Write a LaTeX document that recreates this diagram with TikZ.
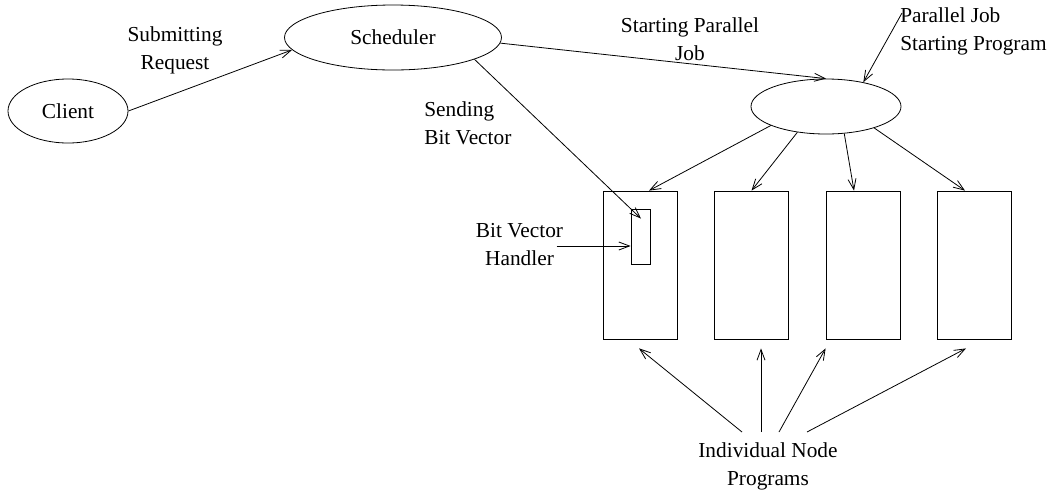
\documentclass[tikz,border=0pt]{standalone}
\usepackage{fontspec}
\setmainfont{Liberation Serif}
\usetikzlibrary{arrows.meta,shapes.geometric,calc}
\begin{document}
\begin{tikzpicture}[x=0.75pt,y=-0.75pt,
  every node/.style={font=\fontsize{16pt}{21pt}\selectfont},
  ell/.style={draw,ellipse,inner sep=0pt,line width=0.6pt},
  boxn/.style={draw,rectangle,inner sep=0pt,line width=0.6pt,minimum width=55.5pt,minimum height=111pt},
  lbl/.style={inner sep=0pt},
  arr/.style={line width=0.6pt,-{Straight Barb[length=8pt,width=6pt,line width=0.6pt]}}]
\path[use as bounding box,fill=white] (0,0) rectangle (1057,497);
% nodes
\node[ell,minimum width=90pt,minimum height=48pt] (client) at (68,111) {Client};
\node[ell,minimum width=162.75pt,minimum height=48.75pt] (sched) at (393,37.5) {Scheduler};
\node[ell,minimum width=112.5pt,minimum height=41.25pt] (pj) at (826,106.5) {};
\node[boxn] (box1) at (640,265) {};
\node[boxn] (box2) at (751.5,265) {};
\node[boxn] (box3) at (863,265) {};
\node[boxn] (box4) at (974.5,265) {};
\node[draw,rectangle,inner sep=0pt,line width=0.6pt,minimum width=14.25pt,minimum height=41.25pt] (bv) at (640.5,236.5) {};
% labels
\node[lbl,align=center] (sub) at (175,50) {Submitting\\Request};
\node[lbl,align=center] (spj) at (690,39) {Starting Parallel\\Job};
\node[lbl,align=left,anchor=west] (pjsp) at (900,31.5) {Parallel Job\\Starting Program};
\node[lbl,align=left,anchor=west] (sbv) at (424,123.5) {Sending\\Bit Vector};
\node[lbl,align=center] (bvh) at (519.5,245) {Bit Vector\\Handler};
\node[lbl,align=center] (inp) at (768,466) {Individual Node\\Programs};
% connectors
\draw[arr] (client.east) -- (sched.187.5);
\draw[arr] (sched.-3) -- (pj.north);
\draw[arr] ($(pjsp.west)+(2,-18.5)$) -- (pj.33);
\draw[arr] (sched.-15) -- ($(bv.north)+(0.5,10)$);
\draw[arr] ($(bvh.center)+(37,1)$) -- ($(bvh.center -| bv.west)+(0,1)$);
\draw[arr] (pj.199) -- ($(box1.north)+(9,0)$);
\draw[arr] (pj.222) -- (box2.north);
\draw[arr] (pj.-56) -- ($(box3.north)+(-9,0)$);
\draw[arr] (pj.-24.5) -- ($(box4.north)+(-9.5,0)$);
\draw[arr] ($(inp.center)+(-26,-34)$) -- ($(box1.south)+(-1,9)$);
\draw[arr] ($(inp.center)+(-7,-34)$) -- ($(box2.south)+(9.5,9)$);
\draw[arr] ($(inp.center)+(11,-34)$) -- ($(box3.south west)+(0,9)$);
\draw[arr] ($(inp.center)+(39,-34)$) -- ($(box4.south)+(-8.5,9)$);
\end{tikzpicture}
\end{document}
